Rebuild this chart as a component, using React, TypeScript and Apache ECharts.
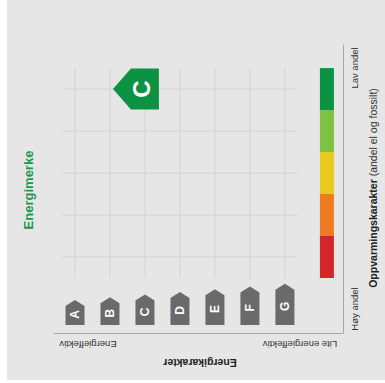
import React, { useEffect, useRef } from "react";
import * as echarts from "echarts";

// ---- data ----
const energyClasses = ["A", "B", "C", "D", "E", "F", "G"];
const heatingBandColors = ["#d2262b", "#ee7b22", "#e8ca1c", "#7ec242", "#0b9243"]; // low (Høy andel) -> high (Lav andel)
const energyRating = "C";
const heatingLevel = 4; // index into heatingBandColors
const xAxisEndLabels = ["Energieffektiv", "Lite energieffektiv"];
const yAxisEndLabels = ["Høy andel", "Lav andel"];
const xAxisTitle = "Energikarakter";
const yAxisTitleBold = "Oppvarmingskarakter";
const yAxisTitleRest = " (andel el og fossilt)";
const chartTitle = "Energimerke";

const FONT = "'Liberation Sans', Arial, Helvetica, sans-serif";
const ARROW_BASE = -1.62;
const BAR_X = 7.2;

export default function App() {
  const ref = useRef<HTMLDivElement>(null);
  useEffect(() => {
    document.body.style.margin = "0";
    const chart = echarts.init(ref.current!, null, { renderer: "svg" });
    const classIdx = energyClasses.indexOf(energyRating);
    const nBands = heatingBandColors.length;

    const option: any = {
      animation: false,
      backgroundColor: "#ffffff",
      grid: { left: 54, top: 45, right: 42, bottom: 50 },
      xAxis: {
        type: "value",
        min: -0.6,
        max: 7.66,
        axisLine: { show: true, onZero: false, lineStyle: { color: "#a8a8a8" } },
        axisTick: { show: false },
        axisLabel: { show: false },
        splitLine: { show: false },
      },
      yAxis: {
        type: "value",
        position: "right",
        min: -1.81,
        max: 5.05,
        axisLine: { show: true, onZero: false, lineStyle: { color: "#a8a8a8" } },
        axisTick: { show: false },
        axisLabel: { show: false },
        splitLine: { show: false },
      },
      graphic: [
        {
          type: "rect",
          z: -10,
          shape: { x: 7, y: 0, width: 378, height: 380 },
          style: { fill: "#e6e6e6" },
          silent: true,
        },
        {
          type: "text",
          x: 28,
          y: 190,
          rotation: Math.PI / 2,
          style: {
            text: chartTitle,
            fill: "#1a9a4c",
            font: `bold 13px ${FONT}`,
            align: "center",
            verticalAlign: "middle",
          },
        },
        {
          type: "text",
          x: 88,
          y: 344,
          rotation: Math.PI,
          style: { text: xAxisEndLabels[0], fill: "#333", font: `9.5px ${FONT}`, align: "center", verticalAlign: "middle" },
        },
        {
          type: "text",
          x: 300,
          y: 344,
          rotation: Math.PI,
          style: { text: xAxisEndLabels[1], fill: "#333", font: `9.5px ${FONT}`, align: "center", verticalAlign: "middle" },
        },
        {
          type: "text",
          x: 200,
          y: 363,
          rotation: Math.PI,
          style: { text: xAxisTitle, fill: "#222", font: `bold 10.5px ${FONT}`, align: "center", verticalAlign: "middle" },
        },
        {
          type: "text",
          x: 354,
          y: 309,
          rotation: Math.PI / 2,
          style: { text: yAxisEndLabels[0], fill: "#333", font: `9.5px ${FONT}`, align: "center", verticalAlign: "middle" },
        },
        {
          type: "text",
          x: 354,
          y: 68,
          rotation: Math.PI / 2,
          style: { text: yAxisEndLabels[1], fill: "#333", font: `9.5px ${FONT}`, align: "center", verticalAlign: "middle" },
        },
        {
          type: "text",
          x: 373,
          y: 188,
          rotation: Math.PI / 2,
          style: {
            text: `{b|${yAxisTitleBold}}{r|${yAxisTitleRest}}`,
            align: "center",
            verticalAlign: "middle",
            rich: {
              b: { fill: "#222", font: `bold 10.5px ${FONT}` },
              r: { fill: "#333", font: `10.5px ${FONT}` },
            },
          },
        },
      ],
      series: [
        {
          type: "custom",
          name: "grid",
          silent: true,
          z: 1,
          data: [[0, 0]],
          renderItem: (params: any, api: any) => {
            const children: any[] = [];
            const lineStyle = { stroke: "#d3d3d3", lineWidth: 1 };
            energyClasses.forEach((_, i) => {
              const a = api.coord([i, nBands - 0.5]);
              const b = api.coord([i, -0.5]);
              children.push({ type: "line", shape: { x1: a[0], y1: a[1], x2: b[0], y2: b[1] }, style: lineStyle });
            });
            heatingBandColors.forEach((_, j) => {
              const a = api.coord([-0.37, j]);
              const b = api.coord([energyClasses.length - 1 + 0.37, j]);
              children.push({ type: "line", shape: { x1: a[0], y1: a[1], x2: b[0], y2: b[1] }, style: lineStyle });
            });
            return { type: "group", children };
          },
        },
        {
          type: "custom",
          name: "bands",
          silent: true,
          z: 2,
          data: heatingBandColors.map((c, j) => [BAR_X, j]),
          renderItem: (params: any, api: any) => {
            const j = api.value(1);
            const top = api.coord([BAR_X, j + 0.5]);
            const bot = api.coord([BAR_X, j - 0.5]);
            return {
              type: "rect",
              shape: { x: top[0] - 7, y: top[1], width: 14, height: bot[1] - top[1] },
              style: { fill: heatingBandColors[j] },
            };
          },
        },
        {
          type: "custom",
          name: "classes",
          silent: true,
          z: 3,
          data: energyClasses.map((c, i) => [i, ARROW_BASE]),
          renderItem: (params: any, api: any) => {
            const i = api.value(0);
            const base = api.coord([i, ARROW_BASE]);
            const h = 25 + i * 2.7;
            const w = 19;
            const roof = 6;
            const cx = base[0];
            const x0 = cx - w / 2;
            const x1 = cx + w / 2;
            const yb = base[1];
            const yt = yb - h;
            return {
              type: "group",
              children: [
                {
                  type: "polygon",
                  shape: { points: [[x0, yb], [x1, yb], [x1, yt + roof], [cx, yt], [x0, yt + roof]] },
                  style: { fill: "#6a6a6a" },
                },
                {
                  type: "text",
                  x: cx,
                  y: yb - (h - roof) / 2 - 1,
                  rotation: Math.PI / 2,
                  style: {
                    text: energyClasses[i],
                    fill: "#ffffff",
                    font: `bold 12px ${FONT}`,
                    align: "center",
                    verticalAlign: "middle",
                  },
                },
              ],
            };
          },
        },
        {
          type: "custom",
          name: "rating",
          silent: true,
          z: 4,
          data: [[classIdx, heatingLevel]],
          renderItem: (params: any, api: any) => {
            const c = api.coord([api.value(0), api.value(1)]);
            const bw = 28;
            const bh = 41;
            const tip = 18;
            const l = c[0] - bw / 2;
            const r = c[0] + bw / 2;
            const t = c[1] - bh / 2;
            const b = c[1] + bh / 2;
            return {
              type: "group",
              children: [
                {
                  type: "polygon",
                  shape: { points: [[r, t], [r, b], [l, b], [l - tip, c[1]], [l, t]] },
                  style: { fill: "#0b9243" },
                },
                {
                  type: "text",
                  x: c[0] - 3,
                  y: c[1],
                  rotation: Math.PI / 2,
                  style: {
                    text: energyRating,
                    fill: "#ffffff",
                    font: `bold 24px ${FONT}`,
                    align: "center",
                    verticalAlign: "middle",
                  },
                },
              ],
            };
          },
        },
      ],
    };
    chart.setOption(option);
    return () => chart.dispose();
  }, []);
  return <div ref={ref} style={{ width: 385, height: 383 }} />;
}
